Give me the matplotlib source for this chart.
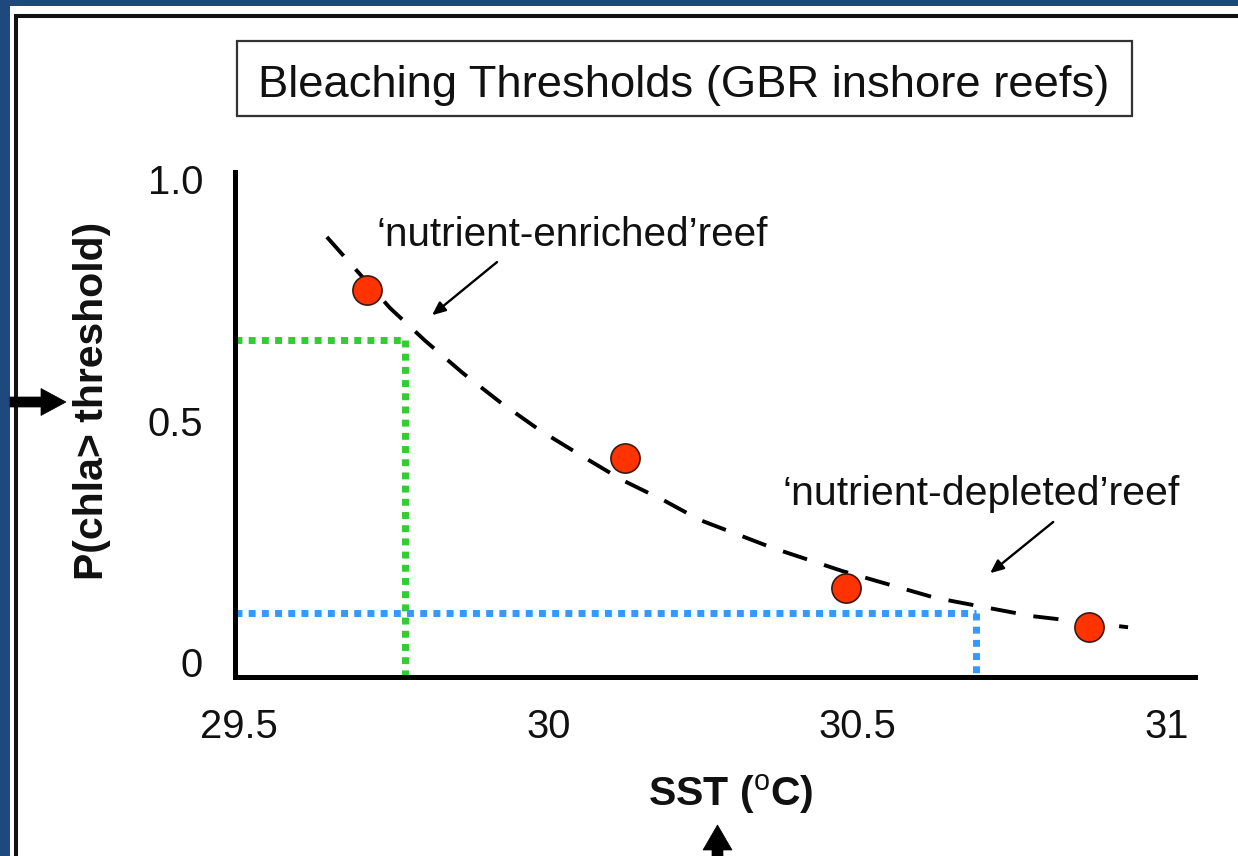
import matplotlib
matplotlib.use("Agg")
import matplotlib.pyplot as plt
from matplotlib.patches import Rectangle, Polygon
from matplotlib.lines import Line2D

plt.rcParams['font.family'] = ['Liberation Sans', 'DejaVu Sans']
plt.rcParams['mathtext.fontset'] = 'custom'
plt.rcParams['mathtext.rm'] = 'Liberation Sans'
plt.rcParams['mathtext.bf'] = 'Liberation Sans:bold'

# ---------------- data ----------------
title = "Bleaching Thresholds (GBR inshore reefs)"
x_label = r"SST ($\mathrm{^{o}}$C)"
y_label = "P(chla> threshold)"

sst_obs = [29.707, 30.124, 30.481, 30.874]
p_obs = [0.770, 0.422, 0.153, 0.072]

# fitted trend line
sst_fit = [29.642, 29.744, 29.801, 29.862, 29.922, 29.986, 30.051, 30.119,
           30.189, 30.245, 30.363, 30.476, 30.549, 30.625, 30.703, 30.782, 30.937]
p_fit = [0.880, 0.733, 0.665, 0.598, 0.538, 0.480, 0.429, 0.377,
         0.333, 0.294, 0.236, 0.188, 0.161, 0.133, 0.114, 0.095, 0.072]

enriched_threshold = (29.768, 0.667)   # (SST, P)
depleted_threshold = (30.691, 0.101)

x_ticks = [29.5, 30.0, 30.5, 31.0]
x_ticklabels = ["29.5", "30", "30.5", "31"]
y_ticks = [0.0, 0.5, 1.0]
y_ticklabels = ["0", "0.5", "1.0"]

label_enriched = "\u2018nutrient-enriched\u2019reef"
label_depleted = "\u2018nutrient-depleted\u2019reef"

# ---------------- figure ----------------
W, H = 1238, 856
fig = plt.figure(figsize=(W / 100, H / 100), dpi=100, facecolor='#1F497D')


def fx(px):
    return px / W


def fy(py):
    return 1 - py / H


# white panel
fig.patches.append(Rectangle((fx(10), 0), 1 - fx(10), fy(6), transform=fig.transFigure,
                             facecolor='white', edgecolor='none', zorder=-10))
# black frame (left & top)
fig.lines.append(Line2D([fx(15.5), fx(15.5), 1.0], [0.0, fy(15.5), fy(15.5)],
                        transform=fig.transFigure, color='#111111', lw=2.9,
                        solid_joinstyle='miter', zorder=1))

# title box
fig.patches.append(Rectangle((fx(237), fy(116)), fx(1132) - fx(237), fy(40.7) - fy(116),
                             transform=fig.transFigure, facecolor='white',
                             edgecolor='#333333', lw=1.6, zorder=1))
fig.text(fx(684), fy(97), title, ha='center', va='baseline', fontsize=32.7,
         color='#111111', zorder=2)


def poly_px(pts):
    return Polygon([(fx(x), fy(y)) for x, y in pts], closed=True,
                   transform=fig.transFigure, facecolor='black', edgecolor='black',
                   lw=0.5, zorder=3)


# left arrow
fig.patches.append(poly_px([(10, 397), (41, 397), (41, 388.5), (66, 402),
                            (41, 415.5), (41, 407), (10, 407)]))
# bottom arrow
fig.patches.append(poly_px([(712, 857), (712, 850), (703, 850), (717.5, 825),
                            (732, 850), (723, 850), (723, 857)]))

# axes
ax = fig.add_axes([fx(235), fy(677), fx(1195) - fx(235), fy(172) - fy(677)])
ax.set_facecolor('none')
ax.set_xlim(29.49353, 31.04517)
ax.set_ylim(-0.031, 1.0145)
for s in ['top', 'right']:
    ax.spines[s].set_visible(False)
for s in ['left', 'bottom']:
    ax.spines[s].set_linewidth(3.6)
    ax.spines[s].set_color('black')
    ax.spines[s].set_capstyle('projecting')

ax.set_xticks(x_ticks)
ax.set_xticklabels(x_ticklabels)
ax.set_yticks(y_ticks)
ax.set_yticklabels(y_ticklabels)
ax.tick_params(axis='both', length=0, labelsize=28.8, colors='#111111')
ax.tick_params(axis='x', pad=22)
ax.tick_params(axis='y', pad=23)

x0, _ = ax.get_xlim()
y0, _ = ax.get_ylim()

dot = (0, (1.0, 0.9))
gx, gy = enriched_threshold
ax.plot([x0, gx], [gy, gy], color='#33CC33', lw=5, ls=dot, clip_on=False, zorder=2)
ax.plot([gx, gx], [gy, y0], color='#33CC33', lw=5, ls=dot, clip_on=False, zorder=2)
bx, by = depleted_threshold
ax.plot([x0, bx], [by, by], color='#3399FF', lw=5, ls=dot, clip_on=False, zorder=2)
ax.plot([bx, bx], [by, y0], color='#3399FF', lw=5, ls=dot, clip_on=False, zorder=2)

# trend line
ax.plot(sst_fit, p_fit, color='black', lw=2.8, ls=(0, (6.5, 4.6)), zorder=3)

# observations
ax.plot(sst_obs, p_obs, ls='none', marker='o', markersize=21,
        markerfacecolor='#FF3300', markeredgecolor='#3A1A10', markeredgewidth=1.2, zorder=4)

# annotations
ax.text(29.722, 0.862, label_enriched, ha='left', va='baseline', fontsize=29.2,
        color='#111111')
ax.annotate('', xy=(29.812, 0.718), xytext=(29.917, 0.828),
            arrowprops=dict(arrowstyle='-|>,head_length=0.8,head_width=0.35',
                            lw=1.7, color='black', shrinkA=0, shrinkB=0))
ax.text(30.378, 0.325, label_depleted, ha='left', va='baseline', fontsize=29.6,
        color='#111111')
ax.annotate('', xy=(30.714, 0.184), xytext=(30.816, 0.290),
            arrowprops=dict(arrowstyle='-|>,head_length=0.8,head_width=0.35',
                            lw=1.7, color='black', shrinkA=0, shrinkB=0))

# axis labels
fig.text(fx(92), fy(401), y_label, rotation=90, ha='center', va='center',
         fontsize=29.5, fontweight='bold', color='#111111')
fig.text(fx(731), fy(794), x_label, ha='center', va='center',
         fontsize=29.5, fontweight='bold', color='#111111')

fig.savefig('out.png', dpi=100, facecolor=fig.get_facecolor())
